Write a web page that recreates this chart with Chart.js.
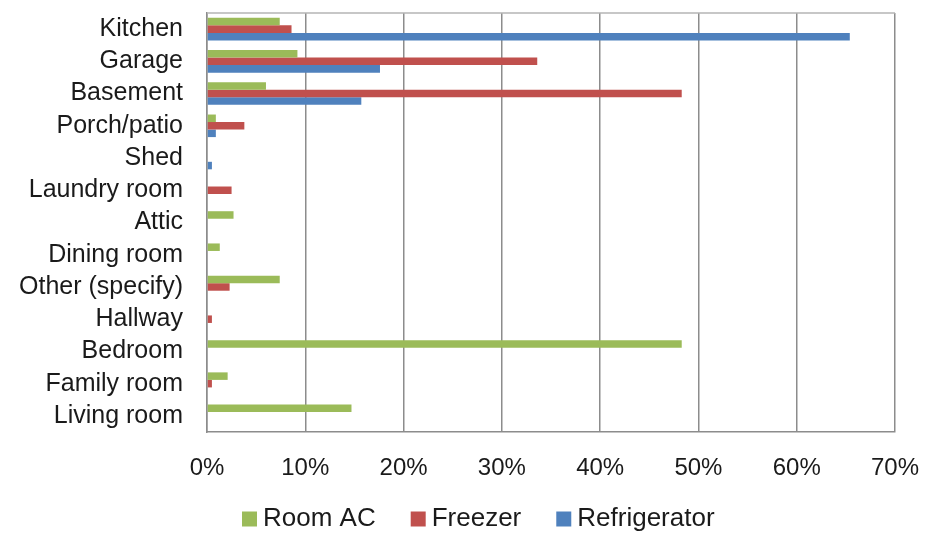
<!DOCTYPE html>
<html>
<head>
<meta charset="utf-8">
<script src="https://cdn.jsdelivr.net/npm/chart.js@4.4.0/dist/chart.umd.min.js"></script>
<style>
  html, body { margin: 0; padding: 0; background: #fff; }
  #wrap { width: 925px; height: 533px; }
</style>
</head>
<body>
<div id="wrap"><canvas id="roomChart" width="925" height="533"></canvas></div>
<script>
// rooms, top to bottom
const rooms = ['Kitchen', 'Garage', 'Basement', 'Porch/patio', 'Shed', 'Laundry room', 'Attic',
    'Dining room', 'Other (specify)', 'Hallway', 'Bedroom', 'Family room', 'Living room'];

// share of each appliance by location (%)
const roomAC = [7.4, 9.2, 6.0, 0.9, 0, 0, 2.7, 1.3, 7.4, 0, 48.3, 2.1, 14.7];
const freezer = [8.6, 33.6, 48.3, 3.8, 0, 2.5, 0, 0, 2.3, 0.5, 0, 0.5, 0];
const refrigerator = [65.4, 17.6, 15.7, 0.9, 0.5, 0, 0, 0, 0, 0, 0, 0, 0];

const xTicks = [0, 10, 20, 30, 40, 50, 60, 70];

const gridGray = '#8c8c8c';
const textColor = '#1a1a1a';
const fontFamily = 'Liberation Sans, Arial, sans-serif';

// top edge of the plot frame, and pull the legend up under the tick labels
const frame = {
    id: 'frame',
    afterLayout(chart) {
        chart.legend.top -= 18;
        chart.legend.bottom -= 18;
    },
    afterDraw(chart) {
        const { ctx, chartArea: a } = chart;
        ctx.save();
        ctx.strokeStyle = '#b4b4b4';
        ctx.lineWidth = 1.5;
        ctx.beginPath();
        ctx.moveTo(a.left, a.top);
        ctx.lineTo(a.right, a.top);
        ctx.stroke();
        ctx.restore();
    }
};

new Chart(document.getElementById('roomChart').getContext('2d'), {
    type: 'bar',
    data: {
        labels: rooms,
        datasets: [
            { label: 'Room AC', data: roomAC, backgroundColor: '#9BBB59' },
            { label: 'Freezer', data: freezer, backgroundColor: '#C0504D' },
            { label: 'Refrigerator', data: refrigerator, backgroundColor: '#4F81BD' }
        ]
    },
    options: {
        indexAxis: 'y',
        responsive: false,
        animation: false,
        categoryPercentage: 0.7,
        barPercentage: 1.0,
        layout: { padding: { left: 0, right: 30, top: 13, bottom: -27 } },
        scales: {
            x: {
                min: 0,
                max: 70,
                afterBuildTicks(scale) {
                    scale.ticks = xTicks.map(v => ({ value: v }));
                },
                afterFit(scale) {
                    scale.height = 50;
                    scale.paddingLeft = 0;
                    scale.paddingRight = 0;
                },
                grid: { color: gridGray, lineWidth: 1.5, drawTicks: false },
                border: { color: gridGray, width: 1.5 },
                ticks: {
                    padding: 22,
                    color: textColor,
                    maxRotation: 0,
                    font: { family: fontFamily, size: 24 },
                    callback: v => v + '%'
                }
            },
            y: {
                afterFit(scale) {
                    scale.width = 207;
                    scale.paddingTop = 0;
                    scale.paddingBottom = 0;
                },
                grid: { display: false, drawTicks: false },
                border: { color: gridGray, width: 1.5 },
                ticks: {
                    autoSkip: false,
                    padding: 24,
                    color: textColor,
                    font: { family: fontFamily, size: 25 }
                }
            }
        },
        plugins: {
            legend: {
                position: 'bottom',
                fullSize: false,
                align: 'start',
                labels: {
                    color: textColor,
                    usePointStyle: true,
                    pointStyle: 'rect',
                    boxWidth: 1,
                    boxHeight: 15,
                    padding: 42,
                    font: { family: fontFamily, size: 26 }
                }
            },
            tooltip: { enabled: false }
        }
    },
    plugins: [frame]
});
</script>
</body>
</html>
